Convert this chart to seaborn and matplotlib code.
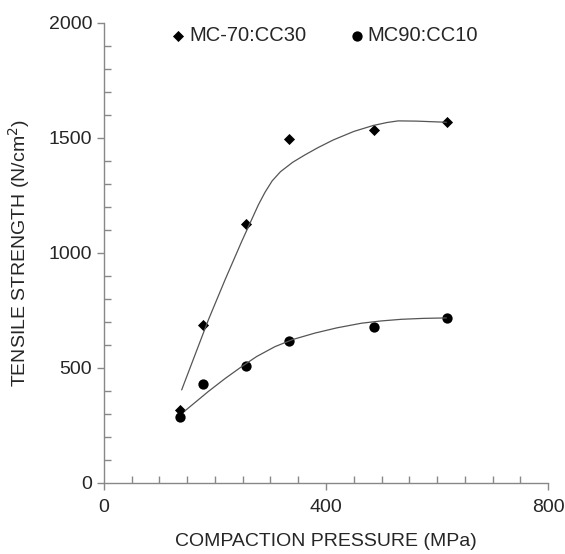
import pandas as pd
import seaborn as sns
import matplotlib.pyplot as plt
from matplotlib.ticker import MultipleLocator

# valori
pressure = [137, 178, 255, 333, 487, 618]
mc70_cc30 = [316, 686, 1125, 1493, 1532, 1570]
mc90_cc10 = [284, 429, 509, 615, 677, 715]
series_names = ['MC-70:CC30', 'MC90:CC10']

# curbele de tendinta
trend70_x = [140, 188, 218, 248, 278, 290, 303, 318, 340, 362, 385, 413, 450, 485, 510, 530, 563, 617]
trend70_y = [403, 707, 881, 1048, 1207, 1262, 1312, 1352, 1393, 1425, 1456, 1490, 1527, 1553, 1566, 1573, 1572, 1567]
trend90_x = [146, 188, 218, 248, 275, 308, 340, 380, 420, 464, 500, 536, 575, 617]
trend90_y = [312, 396, 452, 504, 548, 591, 622, 650, 673, 693, 703, 710, 714, 716]

df = pd.DataFrame({
    'pressure': pressure * 2,
    'strength': mc70_cc30 + mc90_cc10,
    'mix': [series_names[0]] * 6 + [series_names[1]] * 6,
})

sns.set_style('ticks')
plt.rcParams['font.family'] = ['Liberation Sans', 'DejaVu Sans']

fig = plt.figure(figsize=(5.65, 5.54), dpi=100)
ax = fig.add_axes([0.184, 0.129, 0.786, 0.83])

sns.lineplot(x=trend70_x, y=trend70_y, color='#555555', lw=0.9, estimator=None, ax=ax)
sns.lineplot(x=trend90_x, y=trend90_y, color='#555555', lw=0.9, estimator=None, ax=ax)

sub = df[df['mix'] == series_names[0]]
sns.scatterplot(data=sub, x='pressure', y='strength', marker='D', color='black',
                s=32, linewidth=0, label=series_names[0], ax=ax)
sub = df[df['mix'] == series_names[1]]
sns.scatterplot(data=sub, x='pressure', y='strength', marker='o', color='black',
                s=55, linewidth=0, label=series_names[1], ax=ax)

ax.set_xlim(0, 800)
ax.set_ylim(0, 2000)
ax.set_xticks([0, 400, 800])
ax.set_yticks([0, 500, 1000, 1500, 2000])
ax.xaxis.set_minor_locator(MultipleLocator(50))
ax.yaxis.set_minor_locator(MultipleLocator(100))
ax.tick_params(which='major', direction='out', length=5, width=1, color='#888888',
               labelsize=14)
ax.tick_params(axis='x', which='major', pad=7)
ax.tick_params(which='minor', direction='in', length=5, width=1, color='#888888')
for s in ['left', 'bottom']:
    ax.spines[s].set_color('#888888')
    ax.spines[s].set_linewidth(1)
sns.despine(ax=ax)

ax.set_xlabel('COMPACTION PRESSURE (MPa)', fontsize=14, labelpad=12)
ax.set_ylabel('TENSILE STRENGTH (N/cm$^2$)', fontsize=14, labelpad=12)

ax.legend(loc='upper left', bbox_to_anchor=(172 / 565, 1 - 26 / 554),
          bbox_transform=fig.transFigure, ncol=2, frameon=False, fontsize=14.5,
          borderpad=0, borderaxespad=0, handlelength=0.6, handletextpad=0.25,
          columnspacing=2.2, markerscale=1.0)

fig.savefig('out.png', dpi=100)
